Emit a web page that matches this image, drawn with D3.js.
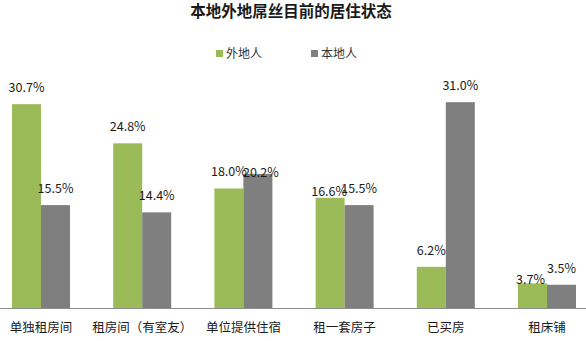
<!DOCTYPE html>
<html>
<head>
<meta charset="utf-8">
<script src="https://cdn.jsdelivr.net/npm/d3@7"></script>
<style>
  html, body { margin: 0; padding: 0; background: #fff; }
  svg { display: block; font-family: "Noto Sans CJK SC", "Microsoft YaHei", sans-serif; }
</style>
</head>
<body>
<svg id="chart" width="586" height="341"></svg>
<script>
// Housing situation of non-local vs local respondents (%)
const categories = ["单独租房间", "租房间（有室友）", "单位提供住宿", "租一套房子", "已买房", "租床铺"];
const seriesNames = ["外地人", "本地人"];
const nonLocal = [30.7, 24.8, 18.0, 16.6, 6.2, 3.7];
const local = [15.5, 14.4, 20.2, 15.5, 31.0, 3.5];
const titleText = "本地外地屌丝目前的居住状态";

const colors = { "外地人": "#9bbb59", "本地人": "#7f7f7f" };

const rows = categories.map((c, i) => ({
  category: c,
  values: [
    { series: "外地人", value: nonLocal[i] },
    { series: "本地人", value: local[i] }
  ]
}));

const svg = d3.select("#chart");
const W = 586, H = 341;
const baseY = 308;

const x0 = d3.scaleBand().domain(categories).range([-9.6, 597.6]).padding(0);
const x1 = d3.scaleBand().domain(seriesNames).range([0, x0.bandwidth()])
  .paddingInner(0).paddingOuter(0.745);
const y = d3.scaleLinear().domain([0, 35]).range([baseY, baseY - 6.64 * 35]);

// Title
svg.append("text")
  .attr("x", 291).attr("y", 17)
  .attr("text-anchor", "middle")
  .attr("font-size", 15.5).attr("font-weight", "bold")
  .attr("fill", "#1a1a1a")
  .text(titleText);

// Legend
const legendX = { "外地人": 216, "本地人": 311 };
const legend = svg.append("g");
seriesNames.forEach(s => {
  const g = legend.append("g").attr("transform", `translate(${legendX[s]},50)`);
  g.append("rect").attr("width", 7).attr("height", 7).attr("fill", colors[s]);
  g.append("text").attr("x", 10).attr("y", 8).attr("font-size", 12).attr("fill", "#333").text(s);
});

// Bars
const groups = svg.append("g").selectAll("g.grp").data(rows).join("g")
  .attr("class", "grp")
  .attr("transform", d => `translate(${x0(d.category)},0)`);

groups.selectAll("rect").data(d => d.values).join("rect")
  .attr("x", d => x1(d.series))
  .attr("width", x1.bandwidth())
  .attr("y", d => y(d.value))
  .attr("height", d => baseY - y(d.value))
  .attr("fill", d => colors[d.series]);

// Value labels, a few of them moved by hand to sit beside their neighbours
const labelShift = {
  "单位提供住宿|本地人": { dx: 3, dy: 15 },
  "租一套房子|外地人": { dx: -1, dy: 10 },
  "租床铺|外地人": { dx: -2, dy: 13 }
};
groups.selectAll("text.val").data(d => d.values.map(v => ({ ...v, category: d.category }))).join("text")
  .attr("class", "val")
  .attr("x", d => x1(d.series) + x1.bandwidth() / 2 + ((labelShift[d.category + "|" + d.series] || {}).dx || 0))
  .attr("y", d => y(d.value) - 12 + ((labelShift[d.category + "|" + d.series] || {}).dy || 0))
  .attr("text-anchor", "middle")
  .attr("font-size", 12.5)
  .attr("fill", "#1a1a1a")
  .text(d => d.value.toFixed(1) + "%");

// Baseline
svg.append("line")
  .attr("x1", 0).attr("x2", W)
  .attr("y1", baseY + 0.5).attr("y2", baseY + 0.5)
  .attr("stroke", "#8c8c8c").attr("stroke-width", 1);

// Category axis
const axis = svg.append("g")
  .attr("transform", `translate(0,${baseY})`)
  .call(d3.axisBottom(x0).tickSize(0).tickPadding(15));
axis.select(".domain").remove();
axis.selectAll("text")
  .attr("font-size", 12.5)
  .attr("font-family", "Noto Sans CJK SC, sans-serif")
  .attr("fill", "#1a1a1a");
</script>
</body>
</html>
